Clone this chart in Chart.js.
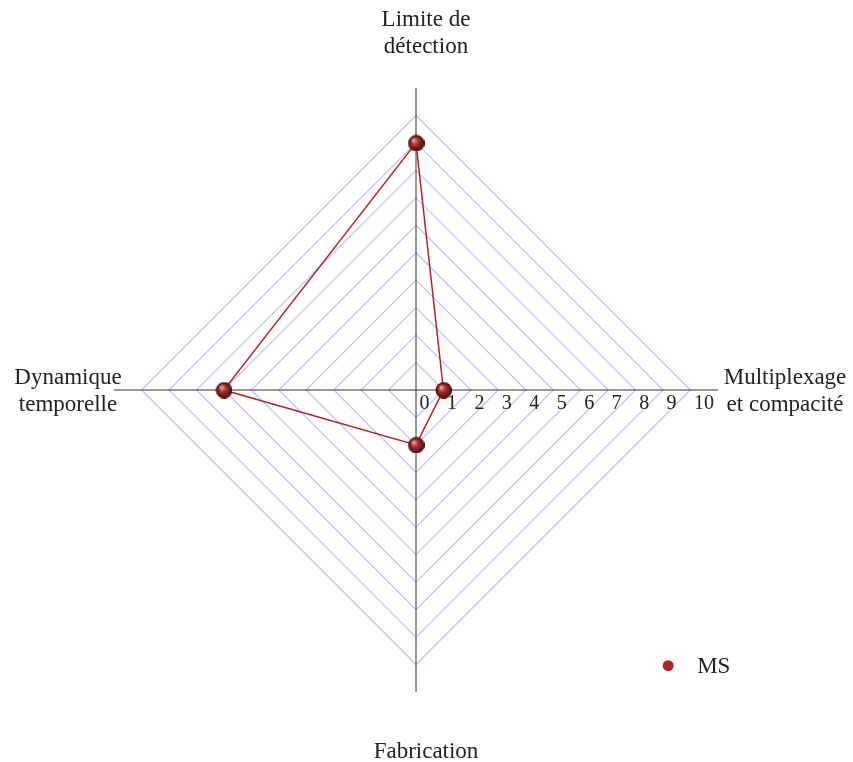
<!DOCTYPE html>
<html>
<head>
<meta charset="utf-8">
<script src="https://cdn.jsdelivr.net/npm/chart.js@4.4.0/dist/chart.umd.min.js"></script>
<style>
html,body{margin:0;padding:0;background:#fff;}
#wrap{width:853px;height:762px;}
</style>
</head>
<body>
<div id="wrap"><canvas id="c" width="853" height="762"></canvas></div>
<script>
const categories = [["Limite de","détection"],["Multiplexage","et compacité"],["Fabrication"],["Dynamique","temporelle"]];
const seriesName = "MS";
const seriesValues = [9, 1, 2, 7];
const tickLabels = [0,1,2,3,4,5,6,7,8,9,10];
const axisMax = 11;

const FONT = '"Liberation Serif", "DejaVu Serif", serif';
const RED = '#b22222';
const GRID = 'rgba(150,150,255,0.62)';

// shaded ball image for points
function makeBall(r){
  const s = r*2+2, c = document.createElement('canvas');
  c.width = s; c.height = s;
  const g = c.getContext('2d');
  const cx = s/2, cy = s/2;
  const grd = g.createRadialGradient(cx - r*0.35, cy - r*0.4, r*0.1, cx, cy, r);
  grd.addColorStop(0, '#e3a0a0');
  grd.addColorStop(0.4, '#ad2f2f');
  grd.addColorStop(1, '#560b0b');
  g.beginPath(); g.arc(cx, cy, r, 0, Math.PI*2);
  g.fillStyle = grd; g.fill();
  g.lineWidth = 1; g.strokeStyle = '#3a0606'; g.stroke();
  return c;
}
const ball = makeBall(7.8);

const decor = {
  id: 'decor',
  afterDraw(chart){
    const sc = chart.scales.r, ctx = chart.ctx;
    const cx = sc.xCenter, cy = sc.yCenter, R = sc.drawingArea;
    ctx.save();
    ctx.fillStyle = '#222';
    // tick labels along the right axis
    ctx.font = '20px ' + FONT;
    ctx.textAlign = 'left'; ctx.textBaseline = 'middle';
    tickLabels.forEach(v => {
      const d = sc.getDistanceFromCenterForValue(v);
      ctx.fillText(String(v), cx + d + 3.5, cy + 14);
    });
    // category labels
    ctx.textAlign = 'center';
    ctx.font = '23px ' + FONT;
    const lh = 27;
    const pos = [
      {x: cx + 10, y: cy - R - 55},
      {x: cx + R + 67, y: cy + 1},
      {x: cx + 10, y: cy + R + 60},
      {x: cx - R - 46, y: cy + 1}
    ];
    categories.forEach((lines, i) => {
      const p = pos[i];
      const y0 = p.y - (lines.length - 1) * lh / 2;
      lines.forEach((t, j) => ctx.fillText(t, p.x, y0 + j * lh));
    });
    // legend
    const lx = cx + R * 0.835, ly = cy + R * 0.913;
    ctx.beginPath(); ctx.arc(lx, ly, 5.5, 0, Math.PI*2);
    ctx.fillStyle = RED; ctx.fill();
    ctx.fillStyle = '#222'; ctx.textAlign = 'left';
    ctx.fillText(seriesName, lx + 29, ly + 1);
    ctx.restore();
  }
};

new Chart(document.getElementById('c'), {
  type: 'radar',
  data: {
    labels: categories.map(l => l.join(' ')),
    datasets: [{
      label: seriesName,
      data: seriesValues,
      borderColor: RED,
      borderWidth: 1.5,
      fill: false,
      pointStyle: ball,
      pointRadius: 7.8,
      pointHoverRadius: 7.8
    }]
  },
  options: {
    responsive: false,
    animation: false,
    events: [],
    layout: { padding: { top: 87.5, bottom: 69.5, left: 113.5, right: 134.5 } },
    plugins: { legend: { display: false }, tooltip: { enabled: false } },
    scales: {
      r: {
        min: 0, max: axisMax,
        startAngle: 0,
        ticks: { display: false, stepSize: 1 },
        pointLabels: { display: false },
        grid: {
          circular: false,
          color: ctx => (ctx.tick && ctx.tick.value >= axisMax) ? 'rgba(0,0,0,0)' : GRID,
          lineWidth: 1.2
        },
        angleLines: { color: '#333', lineWidth: 1 }
      }
    }
  },
  plugins: [decor]
});
</script>
</body>
</html>
